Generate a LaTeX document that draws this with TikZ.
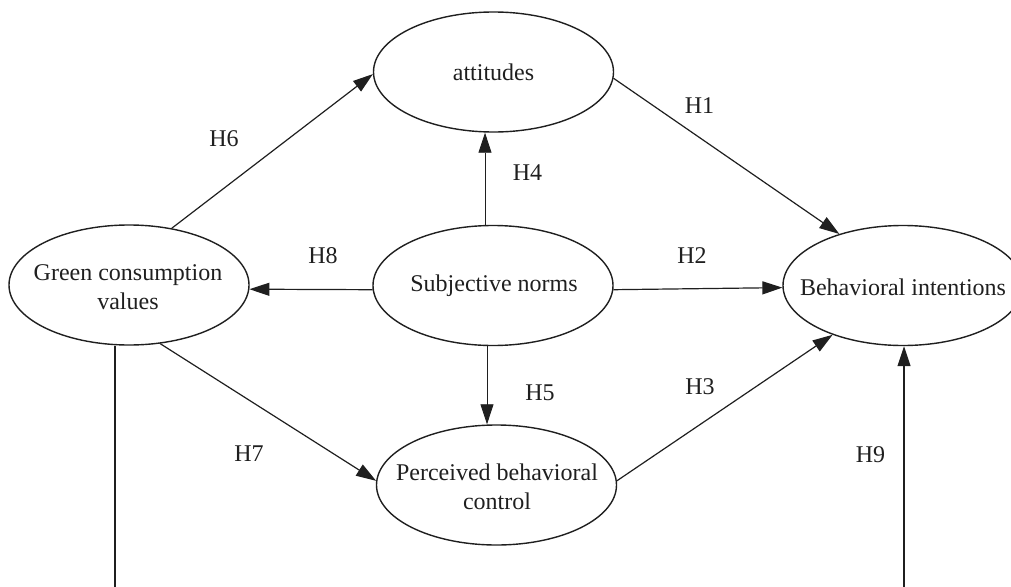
\documentclass[tikz,border=0pt]{standalone}
\usepackage{fontspec}
\setmainfont{Liberation Serif}
\usetikzlibrary{shapes.geometric,arrows.meta}
\begin{document}
\begin{tikzpicture}[x=1pt,y=-1pt,
  ell/.style={draw=black!88,line width=1.4pt,ellipse,minimum width=240pt,minimum height=120pt,inner sep=0pt},
  txt/.style={font=\fontsize{24}{29}\selectfont,align=center,inner sep=0pt,text=black!88},
  lab/.style={font=\fontsize{24}{29}\selectfont,inner sep=0pt,anchor=base,text=black!88},
  arr/.style={line width=1.2pt,draw=black!88,-{Triangle[length=20pt,width=13pt]}},
  plain/.style={line width=1.2pt,draw=black!88},
  thinline/.style={line width=0.8pt}]
\useasboundingbox (0,0) rectangle (1011,586);
\clip (0,0) rectangle (1011,586);
% ellipses
\node[ell] (att) at (493.5,72) {};
\node[ell] (gcv) at (129,285) {};
\node[ell] (sn)  at (493,285.5) {};
\node[ell] (bi)  at (903,285.5) {};
\node[ell] (pbc) at (496.5,485) {};
% texts
\node[txt] (att-t) at (att) {attitudes};
\node[txt] (gcv-t) at (128,287) {Green consumption\\values};
\node[txt] (sn-t)  at (494,286) {Subjective norms};
\node[txt] (bi-t)  at (903,287) {Behavioral intentions};
\node[txt] (pbc-t) at (497,487) {Perceived behavioral\\control};
% free ends at the bottom
\coordinate (gbot) at (115,590);
\coordinate (bbot) at (904,590);
% connectors
\draw[arr] (gcv.53.6) -- (att.181.9);
\draw[arr] (att.357) -- (bi.141.8);
\draw[arr,thinline] ([xshift=-8pt]sn.north) -- ([xshift=-8.5pt]att.south);
\draw[arr] (sn.182.1) -- (gcv.-2.4);
\draw[arr] (sn.-2.6) -- (bi.181);
\draw[arr,thinline] ([xshift=-6pt]sn.south) -- ([xshift=-9.5pt]pbc.north);
\draw[arr] (gcv.298.9) -- (pbc.178.1);
\draw[arr] (pbc.2.4) -- (bi.215);
\draw[plain] (gbot) -- (gbot |- gcv.south);
\draw[arr] (bbot) -- (bbot |- bi.south);
% labels
\node[lab] (h6) at (224,146) {H6};
\node[lab] (h1) at (699.5,113) {H1};
\node[lab] (h4) at (527.5,180) {H4};
\node[lab] (h8) at (323,263) {H8};
\node[lab] (h2) at (692,263) {H2};
\node[lab] (h5) at (540,400) {H5};
\node[lab] (h3) at (700,394) {H3};
\node[lab] (h7) at (249,461) {H7};
\node[lab] (h9) at (870.5,462) {H9};
\end{tikzpicture}
\end{document}
